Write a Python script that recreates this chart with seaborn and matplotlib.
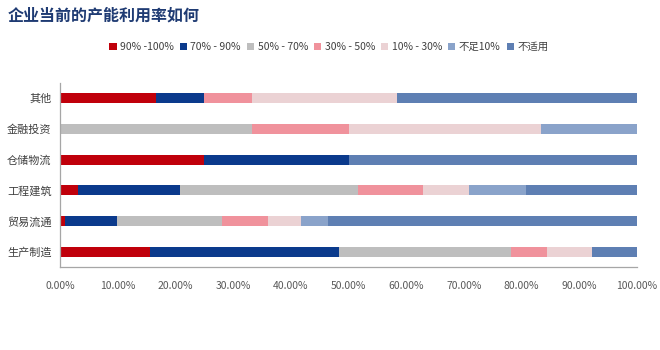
import matplotlib
matplotlib.use("Agg")
import matplotlib.pyplot as plt
import seaborn as sns
import pandas as pd
import numpy as np
from matplotlib.patches import Patch
from matplotlib.ticker import FuncFormatter

# Industries (top to bottom)
industries = ["其他", "金融投资", "仓储物流", "工程建筑", "贸易流通", "生产制造"]

# Capacity-utilisation buckets
buckets = ["90% -100%", "70% - 90%", "50% - 70%", "30% - 50%", "10% - 30%", "不足10%", "不适用"]

# Share of firms in each bucket, per industry (%)
s_90_100 = [16.67, 0.00, 25.00, 3.10, 0.90, 15.60]
s_70_90 = [8.33, 0.00, 25.00, 17.70, 9.00, 32.80]
s_50_70 = [0.00, 33.33, 0.00, 30.80, 18.10, 29.80]
s_30_50 = [8.33, 16.67, 0.00, 11.30, 8.00, 6.20]
s_10_30 = [25.00, 33.33, 0.00, 8.00, 5.80, 7.80]
s_lt10 = [0.00, 16.67, 0.00, 9.80, 4.60, 0.00]
s_na = [41.67, 0.00, 50.00, 19.30, 53.60, 7.80]

colors = ["#C0000B", "#0B3A8C", "#BEBEBE", "#F0929C", "#EBD2D4", "#8AA3CA", "#5E7FB3"]

series = [s_90_100, s_70_90, s_50_70, s_30_50, s_10_30, s_lt10, s_na]
df = pd.DataFrame({b: np.array(v) / 100.0 for b, v in zip(buckets, series)})
df["industry"] = industries
cum = df[buckets].cumsum(axis=1)

sns.set_style("white")
plt.rcParams["font.family"] = ["Noto Sans CJK SC", "DejaVu Sans"]

fig = plt.figure(figsize=(6.6, 3.5), dpi=100)
ax = fig.add_axes([60 / 660, 1 - 267.4 / 350, (637 - 60) / 660, (267.4 - 82.6) / 350])

# Stacked bars: draw cumulative totals from the outermost segment inwards
for b, c in zip(reversed(buckets), reversed(colors)):
    sns.barplot(x=cum[b], y=df["industry"], orient="h", color=c,
                width=0.32, ax=ax, saturation=1, linewidth=0)

ax.set_xlim(0, 1)
ax.set_xticks(np.arange(0, 1.01, 0.1))
ax.xaxis.set_major_formatter(FuncFormatter(lambda v, p: f"{v * 100:.2f}%"))
ax.set_xlabel("")
ax.set_ylabel("")

for side in ["top", "right"]:
    ax.spines[side].set_visible(False)
for side in ["left", "bottom"]:
    ax.spines[side].set_color("#A6A6A6")
    ax.spines[side].set_linewidth(0.9)

ax.tick_params(axis="x", direction="out", length=4, width=0.8, color="#A6A6A6",
               labelsize=7.5, labelcolor="#595959", pad=6)
ax.tick_params(axis="y", length=0, labelsize=8, labelcolor="#404040", pad=6)

fig.text(8 / 660, 1 - 16 / 350, "企业当前的产能利用率如何", fontsize=11.5,
         fontweight="bold", color="#1F3B73", va="center", ha="left")

handles = [Patch(facecolor=c, edgecolor="none", label=b) for b, c in zip(buckets, colors)]
fig.legend(handles=handles, loc="center left", bbox_to_anchor=(100 / 660, 1 - 47 / 350),
           ncol=7, frameon=False, fontsize=7.5, handlelength=0.7, handleheight=0.7,
           handletextpad=0.3, columnspacing=0.6, labelcolor="#404040")

fig.savefig("out.png", dpi=100, facecolor="white")
